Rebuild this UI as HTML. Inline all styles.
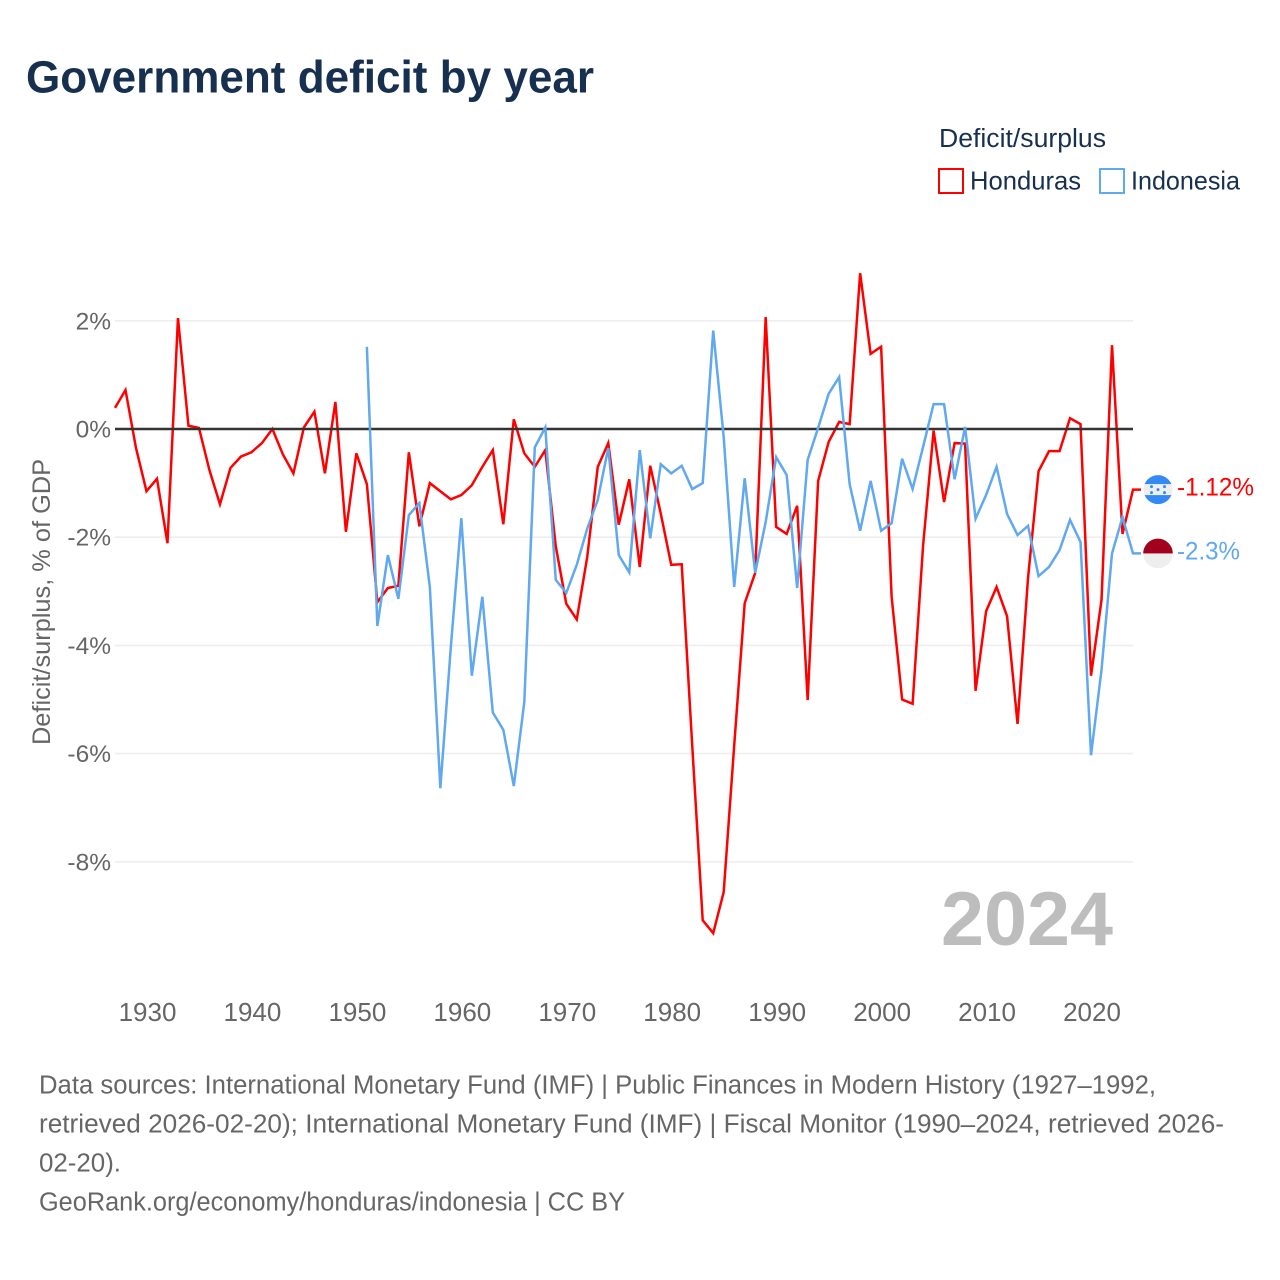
<!DOCTYPE html>
<html lang="en">
<head>
<meta charset="utf-8">
<title>Government deficit by year</title>
<style>
html,body{margin:0;padding:0;background:#fff;width:1280px;height:1280px;overflow:hidden}
svg{display:block}
text{font-family:"Liberation Sans",sans-serif}
</style>
</head>
<body>
<svg id="chart" xmlns="http://www.w3.org/2000/svg" width="1280" height="1280" viewBox="0 0 1280 1280">
  <defs>
    <clipPath id="flag-clip-hn"><circle cx="0" cy="0" r="14.5"></circle></clipPath>
    <clipPath id="flag-clip-id"><circle cx="0" cy="0" r="14.8"></circle></clipPath>
  </defs>
  <rect width="1280" height="1280" fill="#fff"></rect>
  <text x="26" y="92.5" font-size="45" font-weight="700" fill="#17304f" textLength="568" lengthAdjust="spacingAndGlyphs">Government deficit by year</text>

  <g>
    <text x="939" y="147" font-size="25.5" fill="#17304f" textLength="167" lengthAdjust="spacingAndGlyphs">Deficit/surplus</text>
    <g>
      <rect x="939" y="169" width="24" height="24" fill="#fff" stroke="#ff0000" stroke-width="2"></rect>
      <text x="970" y="189.5" font-size="26" fill="#17304f" textLength="111" lengthAdjust="spacingAndGlyphs">Honduras</text>
    </g>
    <g>
      <rect x="1100" y="169" width="24" height="24" fill="#fff" stroke="#60a8ef" stroke-width="2"></rect>
      <text x="1131" y="189.5" font-size="26" fill="#17304f" textLength="109" lengthAdjust="spacingAndGlyphs">Indonesia</text>
    </g>
  </g>

  <g id="grid"></g>
  <g id="y-ticks"></g>
  <g id="x-ticks"></g>
  <text transform="translate(50,602) rotate(-90)" text-anchor="middle" font-size="25" fill="#666666" textLength="286" lengthAdjust="spacingAndGlyphs">Deficit/surplus, % of GDP</text>
  <text x="941" y="945" font-size="76" font-weight="700" fill="#bdbdbd" textLength="172" lengthAdjust="spacingAndGlyphs">2024</text>
  <g id="series"></g>
  <line id="zero-line" stroke="#333333" stroke-width="2.5"></line>
  <g id="series-top"></g>

  <g id="flag-hn">
    <g clip-path="url(#flag-clip-hn)">
      <rect x="-15" y="-15" width="30" height="30" fill="#eeeeee"></rect>
      <rect x="-15" y="-15" width="30" height="9.5" fill="#338af3"></rect>
      <rect x="-15" y="5.5" width="30" height="9.5" fill="#338af3"></rect>
      <g fill="#338af3">
        <circle cx="-6.5" cy="-3" r="1.5"></circle>
        <circle cx="6.5" cy="-3" r="1.5"></circle>
        <circle cx="0" cy="0" r="1.5"></circle>
        <circle cx="-6.5" cy="3" r="1.5"></circle>
        <circle cx="6.5" cy="3" r="1.5"></circle>
      </g>
    </g>
  </g>
  <g id="flag-id">
    <g clip-path="url(#flag-clip-id)">
      <rect x="-15" y="-15" width="30" height="30" fill="#eeeeee"></rect>
      <rect x="-15" y="-15" width="30" height="15" fill="#a2001d"></rect>
    </g>
  </g>
  <text id="end-label-hn" x="1177" font-size="25" fill="#ff0000" textLength="77" lengthAdjust="spacingAndGlyphs"></text>
  <text id="end-label-id" x="1177" font-size="25" fill="#60a8ef" textLength="63" lengthAdjust="spacingAndGlyphs"></text>

  <g fill="#666666" font-size="25.5">
    <text x="39" y="1093.5" textLength="1117" lengthAdjust="spacingAndGlyphs">Data sources: International Monetary Fund (IMF) | Public Finances in Modern History (1927–1992,</text>
    <text x="39" y="1132.5" textLength="1185" lengthAdjust="spacingAndGlyphs">retrieved 2026-02-20); International Monetary Fund (IMF) | Fiscal Monitor (1990–2024, retrieved 2026-</text>
    <text x="39" y="1171.5" textLength="82" lengthAdjust="spacingAndGlyphs">02-20).</text>
    <text x="39" y="1210.5" textLength="586" lengthAdjust="spacingAndGlyphs">GeoRank.org/economy/honduras/indonesia | CC BY</text>
  </g>
</svg>
<script>
var years = [1927,1928,1929,1930,1931,1932,1933,1934,1935,1936,1937,1938,1939,1940,1941,1942,1943,1944,1945,1946,1947,1948,1949,1950,1951,1952,1953,1954,1955,1956,1957,1958,1959,1960,1961,1962,1963,1964,1965,1966,1967,1968,1969,1970,1971,1972,1973,1974,1975,1976,1977,1978,1979,1980,1981,1982,1983,1984,1985,1986,1987,1988,1989,1990,1991,1992,1993,1994,1995,1996,1997,1998,1999,2000,2001,2002,2003,2004,2005,2006,2007,2008,2009,2010,2011,2012,2013,2014,2015,2016,2017,2018,2019,2020,2021,2022,2023,2024];
var honduras = [0.39,0.72,-0.35,-1.15,-0.92,-2.11,2.05,0.06,0.02,-0.76,-1.39,-0.72,-0.51,-0.43,-0.26,0,-0.47,-0.82,0.03,0.32,-0.82,0.5,-1.9,-0.45,-1.02,-3.2,-2.94,-2.9,-0.43,-1.8,-1.0,-1.15,-1.3,-1.22,-1.04,-0.7,-0.39,-1.76,0.18,-0.45,-0.7,-0.39,-2.17,-3.23,-3.52,-2.36,-0.7,-0.26,-1.77,-0.93,-2.55,-0.68,-1.56,-2.51,-2.5,-5.85,-9.08,-9.32,-8.56,-5.85,-3.22,-2.66,2.07,-1.81,-1.94,-1.42,-5.01,-0.96,-0.24,0.13,0.09,2.88,1.39,1.52,-3.1,-5.0,-5.08,-2.15,-0.03,-1.35,-0.26,-0.27,-4.84,-3.37,-2.92,-3.46,-5.45,-2.75,-0.78,-0.41,-0.41,0.2,0.09,-4.56,-3.16,1.55,-1.94,-1.12];
var indonesia = [null,null,null,null,null,null,null,null,null,null,null,null,null,null,null,null,null,null,null,null,null,null,null,null,1.52,-3.64,-2.33,-3.14,-1.59,-1.37,-2.92,-6.64,-4.03,-1.65,-4.56,-3.1,-5.24,-5.56,-6.6,-5.05,-0.34,0.03,-2.79,-3.03,-2.51,-1.84,-1.31,-0.35,-2.33,-2.65,-0.39,-2.02,-0.65,-0.82,-0.68,-1.11,-1.0,1.82,-0.15,-2.92,-0.91,-2.66,-1.72,-0.52,-0.85,-2.94,-0.57,0.02,0.65,0.96,-1.02,-1.88,-0.96,-1.88,-1.74,-0.55,-1.11,-0.33,0.46,0.46,-0.93,0.04,-1.66,-1.22,-0.7,-1.57,-1.96,-1.79,-2.72,-2.55,-2.24,-1.68,-2.09,-6.03,-4.45,-2.3,-1.63,-2.3];
var yTickValues = [2,0,-2,-4,-6,-8];
var yTickLabels = ["2%","0%","-2%","-4%","-6%","-8%"];
var xTickValues = [1930,1940,1950,1960,1970,1980,1990,2000,2010,2020];
var xTickLabels = ["1930","1940","1950","1960","1970","1980","1990","2000","2010","2020"];

var NS = 'http://www.w3.org/2000/svg';
var plotLeft = 115, plotRight = 1133;
var firstYear = years[0], lastYear = years[years.length - 1];
function xScale(year) { return plotLeft + (year - firstYear) * (plotRight - plotLeft) / (lastYear - firstYear); }
function yScale(value) { return 429 - value * 54.1; }
function make(tag, parentId) {
  var el = document.createElementNS(NS, tag);
  document.getElementById(parentId).appendChild(el);
  return el;
}

yTickValues.forEach(function (v, i) {
  if (v !== 0) {
    var line = make('line', 'grid');
    
    
    line.setAttribute('x1', plotLeft);
    line.setAttribute('x2', plotRight);
    line.setAttribute('y1', yScale(v));
    line.setAttribute('y2', yScale(v));
    line.setAttribute('stroke', '#eeeeee');
    line.setAttribute('stroke-width', '1.6');
  }
  var label = make('text', 'y-ticks');
  
  
  label.setAttribute('x', 111);
  label.setAttribute('y', yScale(v) + 8.5);
  label.setAttribute('text-anchor', 'end');
  label.setAttribute('font-size', '24.5');
  label.setAttribute('fill', '#666666');
  label.textContent = yTickLabels[i];
});

xTickValues.forEach(function (v, i) {
  var label = make('text', 'x-ticks');
  
  
  label.setAttribute('x', xScale(v) + 1);
  label.setAttribute('y', 1021);
  label.setAttribute('text-anchor', 'middle');
  label.setAttribute('font-size', '26');
  label.setAttribute('fill', '#666666');
  label.textContent = xTickLabels[i];
});

var zero = document.getElementById('zero-line');
zero.setAttribute('x1', plotLeft);
zero.setAttribute('x2', plotRight);
zero.setAttribute('y1', yScale(0));
zero.setAttribute('y2', yScale(0));

function seriesPath(values) {
  var d = '', started = false;
  values.forEach(function (v, i) {
    if (v === null) { return; }
    d += (started ? 'L' : 'M') + xScale(years[i]).toFixed(2) + ' ' + yScale(v).toFixed(2);
    started = true;
  });
  var last = values[values.length - 1];
  d += 'L' + (xScale(lastYear) + 8).toFixed(2) + ' ' + yScale(last).toFixed(2);
  return d;
}

var redLine = make('path', 'series');


redLine.setAttribute('d', seriesPath(honduras));
redLine.setAttribute('fill', 'none');
redLine.setAttribute('stroke', '#ff0000');
redLine.setAttribute('stroke-width', '2.5');
redLine.setAttribute('stroke-linejoin', 'miter');

var blueLine = make('path', 'series-top');


blueLine.setAttribute('d', seriesPath(indonesia));
blueLine.setAttribute('fill', 'none');
blueLine.setAttribute('stroke', '#60a8ef');
blueLine.setAttribute('stroke-width', '2.5');
blueLine.setAttribute('stroke-linejoin', 'miter');

var hnLast = honduras[honduras.length - 1];
var idLast = indonesia[indonesia.length - 1];
document.getElementById('flag-hn').setAttribute('transform', 'translate(1158,' + yScale(hnLast) + ')');
document.getElementById('flag-id').setAttribute('transform', 'translate(1158,' + yScale(idLast) + ')');
var hnLabel = document.getElementById('end-label-hn');
hnLabel.setAttribute('y', yScale(hnLast) + 6);
hnLabel.textContent = hnLast + '%';
var idLabel = document.getElementById('end-label-id');
idLabel.setAttribute('y', yScale(idLast) + 6);
idLabel.textContent = idLast + '%';
</script>
</body>
</html>
